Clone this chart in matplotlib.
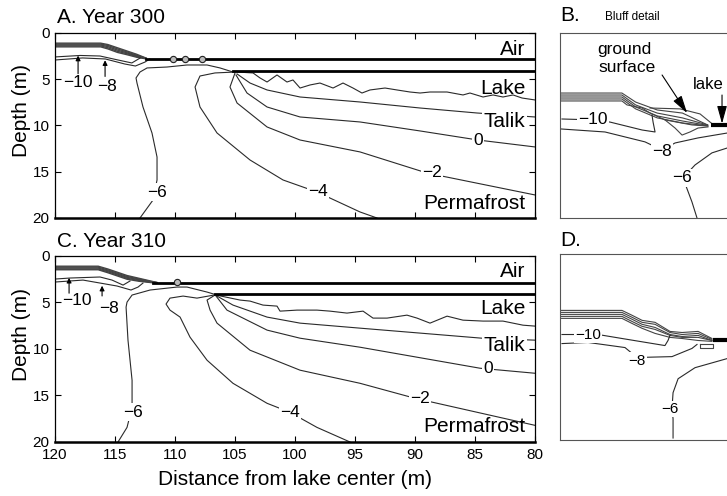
import matplotlib.pyplot as plt

plt.rcParams['font.family'] = ['Liberation Sans', 'DejaVu Sans']

# ---------------- panel A : year 300 (distance from lake centre, depth) ----------------
a_ground_x = [120, 116.2, 115.6, 114.8, 114.0, 113.2, 112.4]
a_ground_1 = [1.10, 1.10, 1.25, 1.60, 1.95, 2.30, 2.72]
a_ground_2 = [1.20, 1.20, 1.35, 1.72, 2.05, 2.40, 2.74]
a_ground_3 = [1.30, 1.30, 1.47, 1.85, 2.15, 2.48, 2.76]
a_ground_4 = [1.40, 1.40, 1.60, 1.98, 2.25, 2.55, 2.78]
a_ground_5 = [1.50, 1.50, 1.72, 2.10, 2.35, 2.62, 2.80]
a_surface_x = [112.4, 80]
a_surface_d = [2.76, 2.76]
a_ice_x = [105.2, 80]
a_ice_d = [4.08, 4.08]
a_bead_x = [110.2, 109.2, 107.75]
a_bead_d = [2.78, 2.78, 2.78]

a_m10_x = [120, 117.9, 116.25, 114.75, 113.6, 112.9]
a_m10_d = [2.59, 2.43, 2.49, 2.92, 3.24, 2.70]
a_m8_x = [120, 117.7, 115.8, 114.2, 113.3, 112.5, 112.1]
a_m8_d = [2.92, 2.70, 2.81, 3.35, 3.57, 3.14, 2.81]
a_m6_x = [112.92, 111.83, 111.5, 111.5, 111.92, 112.67, 113.17, 113.25, 112.92, 112.33,
          110.67, 109.0, 107.33, 106.25, 105.17]
a_m6_d = [20.0, 18.05, 15.89, 13.41, 10.81, 8.0, 5.41, 4.86, 4.22, 3.78,
          3.68, 3.46, 3.46, 3.78, 4.22]
a_m4_x = [105.0, 106.67, 107.92, 108.33, 107.92, 106.5, 103.75, 101.0, 98.17, 94.58, 93.17]
a_m4_d = [4.22, 4.32, 4.65, 5.84, 8.0, 10.81, 13.73, 15.89, 17.19, 19.35, 20.0]
a_m2_x = [105.0, 105.42, 104.83, 102.33, 99.58, 94.58, 89.0, 80.0]
a_m2_d = [4.32, 5.84, 7.57, 10.16, 11.57, 12.86, 15.14, 17.51]
a_0_x = [104.92, 104.0, 102.33, 99.58, 94.58, 89.58, 84.75, 80.0]
a_0_d = [4.54, 6.49, 8.0, 9.08, 9.62, 10.59, 11.57, 12.32]
a_talik_x = [104.83, 103.75, 102.33, 99.58, 94.58, 89.58, 84.83, 80.0]
a_talik_d = [4.43, 5.41, 6.16, 6.92, 7.46, 8.11, 8.65, 9.08]
a_wavy_x = [104.83, 103.5, 102.92, 102.33, 101.5, 100.67, 100.17, 99.58, 98.75, 97.92,
            96.83, 96.0, 95.17, 94.42, 93.75, 92.5, 91.5, 90.42, 89.58, 88.75,
            87.33, 86.0, 85.42, 84.33, 83.5, 82.67, 81.83, 81.08, 80.0]
a_wavy_d = [4.22, 4.32, 4.86, 5.30, 4.54, 5.30, 5.08, 5.95, 5.62, 5.41,
            5.95, 5.41, 5.95, 6.49, 6.16, 5.95, 6.16, 6.38, 6.49, 6.38,
            6.38, 6.70, 6.49, 6.92, 6.70, 6.92, 6.70, 7.03, 7.24]

a_lab_text = ['−6', '−4', '−2', '0']
a_lab_x = [111.5, 98.1, 88.6, 84.75]
a_lab_d = [17.2, 17.1, 15.1, 11.6]
a_region_d = [1.8, 5.95, 9.6, 18.4]
a_arrow_lab = ['−10', '−8']
a_arrow_lab_x = [118.1, 115.7]
a_arrow_lab_d = [5.3, 5.8]
a_arrow_x = [118.08, 115.83]
a_arrow_tail = [4.4, 4.7]
a_arrow_tip = [2.45, 2.95]

# ---------------- panel C : year 310 ----------------
c_ground_x = [120, 116.4, 115.6, 114.8, 114.0, 113.0, 112.0, 111.5]
c_ground_1 = [1.10, 1.10, 1.40, 1.75, 2.10, 2.40, 2.70, 2.85]
c_ground_2 = [1.20, 1.20, 1.50, 1.85, 2.20, 2.48, 2.75, 2.86]
c_ground_3 = [1.30, 1.30, 1.60, 1.95, 2.30, 2.56, 2.80, 2.87]
c_ground_4 = [1.40, 1.40, 1.70, 2.05, 2.40, 2.64, 2.83, 2.88]
c_ground_5 = [1.48, 1.48, 1.80, 2.15, 2.50, 2.72, 2.86, 2.88]
c_surface_x = [111.8, 80]
c_surface_d = [2.87, 2.87]
c_ice_x = [106.7, 80]
c_ice_d = [4.14, 4.14]
c_bead_x = [109.8]
c_bead_d = [2.75]

c_m10_x = [120, 118.75, 116.25, 115.25, 114.33, 113.75]
c_m10_d = [2.48, 2.37, 2.26, 2.59, 3.13, 2.69]
c_m8_x = [120, 117.67, 114.83, 113.67, 113.08, 112.67]
c_m8_d = [2.80, 2.59, 3.23, 3.66, 3.34, 2.91]
c_m6_x = [114.75, 114.0, 113.58, 113.58, 113.92, 114.08, 114.0, 113.58, 112.08, 109.83,
          109.0, 107.33, 106.5]
c_m6_d = [20.0, 18.43, 16.27, 13.36, 9.05, 5.50, 4.96, 4.20, 3.66, 3.34,
          3.34, 3.88, 4.20]
c_m4_x = [106.75, 108.17, 109.33, 110.42, 110.75, 110.42, 109.58, 108.75, 107.33, 105.17,
          102.33, 100.42, 98.17, 95.42]
c_m4_d = [4.20, 4.53, 4.31, 4.53, 5.17, 5.82, 6.57, 8.73, 11.21, 13.69,
          15.84, 16.81, 18.43, 20.0]
c_m2_x = [106.67, 107.33, 107.08, 106.5, 103.75, 99.58, 94.58, 90.0, 80.0]
c_m2_d = [4.20, 4.74, 5.82, 7.22, 10.13, 12.28, 13.69, 15.30, 18.21]
c_0_x = [106.58, 105.67, 102.33, 99.58, 94.58, 84.58, 80.0]
c_0_d = [4.31, 5.82, 7.97, 8.84, 9.81, 12.07, 12.61]
c_talik_x = [106.5, 105.17, 102.33, 99.58, 94.58, 84.42, 80.0]
c_talik_d = [4.31, 5.28, 6.57, 7.22, 7.76, 8.84, 9.05]
c_wavy_x = [106.58, 104.58, 103.75, 102.67, 101.5, 101.25, 99.83, 98.17, 97.08, 95.67,
            94.33, 93.5, 92.33, 90.67, 89.83, 88.75, 87.33, 86.0, 84.33, 82.67, 81.0, 80.0]
c_wavy_d = [4.20, 4.74, 4.85, 5.28, 5.39, 5.93, 5.82, 5.82, 5.93, 6.14,
            5.93, 6.68, 6.68, 6.36, 6.68, 7.22, 6.47, 6.90, 7.00, 7.00, 7.44, 7.54]

c_lab_text = ['−6', '−4', '−2', '0']
c_lab_x = [113.5, 100.4, 89.6, 83.9]
c_lab_d = [16.8, 16.8, 15.3, 12.07]
c_region_d = [1.72, 5.6, 9.6, 18.3]
c_arrow_lab = ['−10', '−8']
c_arrow_lab_x = [118.2, 115.5]
c_arrow_lab_d = [4.75, 5.6]
c_arrow_x = [118.83, 116.08]
c_arrow_tail = [4.0, 4.3]
c_arrow_tip = [2.35, 3.2]

region_names = ['Air', 'Lake', 'Talik', 'Permafrost']
region_masked = [False, False, True, False]
x_ticks = [120, 115, 110, 105, 100, 95, 90, 85, 80]
y_ticks = [0, 5, 10, 15, 20]

# ---------------- panel B : bluff detail, year 300 ----------------
b_ground_x = [120, 116.56, 115.8, 114.6, 113.2, 111.8]
b_ground_1 = [1.23, 1.23, 1.64, 2.00, 2.14, 2.68]
b_ground_2 = [1.32, 1.32, 1.77, 2.14, 2.36, 2.68]
b_ground_3 = [1.41, 1.41, 1.86, 2.27, 2.50, 2.70]
b_ground_4 = [1.50, 1.50, 1.95, 2.36, 2.59, 2.72]
b_ground5_x = [120, 116.56, 116.28, 115.44, 115.0, 114.17, 112.67, 111.78]
b_ground5_d = [1.59, 1.59, 1.77, 1.91, 2.14, 2.45, 2.68, 2.73]
b_upper_x = [115.0, 113.33, 112.22, 111.56]
b_upper_d = [1.91, 1.95, 2.18, 2.62]
b_loop_x = [114.17, 113.61, 113.22, 112.78, 112.33, 111.78]
b_loop_d = [2.45, 2.82, 3.14, 3.0, 2.82, 2.77]
b_m10_x = [119.89, 118.17, 117.22, 115.44, 114.72, 114.83, 114.89]
b_m10_d = [2.41, 2.45, 2.55, 2.91, 3.0, 2.55, 2.23]
b_m8_x = [120.0, 117.5, 115.28, 114.33, 113.61, 112.33, 111.39, 110.0]
b_m8_d = [2.86, 3.0, 3.45, 3.82, 3.5, 3.27, 3.14, 2.95]
b_m6_x = [112.39, 112.67, 113.17, 112.5, 111.56, 110.72, 109.72]
b_m6_d = [6.91, 6.18, 5.09, 4.5, 3.95, 3.73, 3.59]
b_lake_x = [111.6, 108.9]
b_lake_d = [2.68, 2.68]
b_lab_text = ['−10', '−8', '−6']
b_lab_x = [118.17, 114.33, 113.22]
b_lab_d = [2.45, 3.91, 5.09]

# ---------------- panel D : bluff detail, year 310 ----------------
d_ground_x = [120, 116.56, 116.0, 115.44, 114.72, 113.89, 113.22, 112.33, 111.56]
d_ground_1 = [1.05, 1.05, 1.27, 1.50, 1.59, 2.00, 2.05, 2.00, 2.32]
d_ground_2 = [1.14, 1.14, 1.36, 1.59, 1.68, 2.05, 2.14, 2.09, 2.36]
d_ground_3 = [1.23, 1.23, 1.45, 1.68, 1.82, 2.14, 2.23, 2.18, 2.41]
d_ground_4 = [1.32, 1.32, 1.55, 1.77, 1.91, 2.18, 2.27, 2.27, 2.41]
d_ground_5 = [1.41, 1.41, 1.64, 1.86, 2.09, 2.27, 2.32, 2.41, 2.45]
d_box_x = [112.22, 111.5, 111.5, 112.22, 112.22]
d_box_d = [2.55, 2.55, 2.77, 2.77, 2.55]
d_m10_x = [119.89, 118.44, 117.89, 116.56, 114.17, 114.0, 113.89]
d_m10_d = [2.14, 2.14, 2.14, 2.32, 2.64, 2.41, 2.18]
d_m8_x = [119.89, 118.44, 116.39, 115.72, 113.78, 112.67, 112.39]
d_m8_d = [2.55, 2.5, 2.73, 3.18, 3.14, 2.77, 2.59]
d_m6_x = [113.72, 113.72, 113.78, 113.72, 113.44, 112.5, 110.72, 108.89]
d_m6_d = [6.82, 5.95, 5.5, 4.77, 4.14, 3.64, 3.23, 3.0]
d_lake_x = [111.5, 108.9]
d_lake_d = [2.41, 2.41]
d_lab_text = ['−10', '−8', '−6']
d_lab_x = [118.44, 115.72, 113.89]
d_lab_d = [2.14, 3.32, 5.5]

LINE = dict(color='#2a2a2a', lw=0.8, zorder=2)
WHITE = dict(boxstyle='square,pad=0.08', fc='white', ec='none')

fig = plt.figure(figsize=(7.27, 4.96), dpi=100)


def main_panel(rect, ground_x, grounds, surf_x, surf_d, ice_x, ice_d, bead_x, bead_d,
               isolines, lab_text, lab_x, lab_d, region_d,
               arr_lab, arr_lab_x, arr_lab_d, arr_x, arr_tail, arr_tip):
    ax = fig.add_axes(rect)
    for g in grounds:
        ax.plot(ground_x, g, color='#444444', lw=1.0, zorder=2)
    ax.plot(surf_x, surf_d, color='black', lw=2.0, zorder=3)
    ax.plot(ice_x, ice_d, color='black', lw=2.0, zorder=3)
    ax.plot(bead_x, bead_d, 'o', ms=4.5, mfc='#bbbbbb', mec='#222222', mew=0.8, zorder=4)
    for xs, ds in isolines:
        ax.plot(xs, ds, **LINE)
    for t, x, d in zip(lab_text, lab_x, lab_d):
        ax.text(x, d, t, fontsize=12.5, ha='center', va='center', bbox=WHITE, zorder=5)
    for t, d, m in zip(region_names, region_d, region_masked):
        ax.text(80.8, d, t, fontsize=15, ha='right', va='center',
                bbox=WHITE if m else None, zorder=5)
    for t, x, d in zip(arr_lab, arr_lab_x, arr_lab_d):
        ax.text(x, d, t, fontsize=12.5, ha='center', va='center', zorder=5)
    for x, t0, t1 in zip(arr_x, arr_tail, arr_tip):
        ax.annotate('', xy=(x, t1), xytext=(x, t0),
                    arrowprops=dict(arrowstyle='-|>', color='black', lw=0.8,
                                    mutation_scale=7, shrinkA=0, shrinkB=0))
    ax.set_xlim(120, 80)
    ax.set_ylim(20, 0)
    ax.set_xticks(x_ticks)
    ax.set_yticks(y_ticks)
    ax.tick_params(direction='in', top=True, right=True, length=4, width=0.8,
                   labelsize=11, pad=4)
    for s in ax.spines.values():
        s.set_linewidth(0.9)
    ax.spines['bottom'].set_linewidth(1.8)
    ax.set_ylabel('Depth (m)', fontsize=15)
    ax.yaxis.set_label_coords(-0.05, 0.58)
    return ax


ax_a = main_panel([0.0757, 0.5605, 0.6602, 0.373], a_ground_x,
                  [a_ground_1, a_ground_2, a_ground_3, a_ground_4, a_ground_5],
                  a_surface_x, a_surface_d, a_ice_x, a_ice_d, a_bead_x, a_bead_d,
                  [(a_m10_x, a_m10_d), (a_m8_x, a_m8_d), (a_m6_x, a_m6_d), (a_m4_x, a_m4_d),
                   (a_m2_x, a_m2_d), (a_0_x, a_0_d), (a_talik_x, a_talik_d), (a_wavy_x, a_wavy_d)],
                  a_lab_text, a_lab_x, a_lab_d, a_region_d,
                  a_arrow_lab, a_arrow_lab_x, a_arrow_lab_d, a_arrow_x, a_arrow_tail, a_arrow_tip)
ax_a.tick_params(labelbottom=False)

ax_c = main_panel([0.0757, 0.1089, 0.6602, 0.375], c_ground_x,
                  [c_ground_1, c_ground_2, c_ground_3, c_ground_4, c_ground_5],
                  c_surface_x, c_surface_d, c_ice_x, c_ice_d, c_bead_x, c_bead_d,
                  [(c_m10_x, c_m10_d), (c_m8_x, c_m8_d), (c_m6_x, c_m6_d), (c_m4_x, c_m4_d),
                   (c_m2_x, c_m2_d), (c_0_x, c_0_d), (c_talik_x, c_talik_d), (c_wavy_x, c_wavy_d)],
                  c_lab_text, c_lab_x, c_lab_d, c_region_d,
                  c_arrow_lab, c_arrow_lab_x, c_arrow_lab_d, c_arrow_x, c_arrow_tail, c_arrow_tip)
ax_c.set_xlabel('Distance from lake center (m)', fontsize=15, labelpad=6)


def detail_panel(rect, grounds, isolines, lake_x, lake_d, lab_text, lab_x, lab_d, lab_size):
    ax = fig.add_axes(rect)
    for xs, ds in grounds:
        ax.plot(xs, ds, color='#444444', lw=0.8, zorder=2)
    for xs, ds in isolines:
        ax.plot(xs, ds, **LINE)
    ax.plot(lake_x, lake_d, color='black', lw=3.0, solid_capstyle='butt', zorder=3)
    for t, x, d in zip(lab_text, lab_x, lab_d):
        ax.text(x, d, t, fontsize=lab_size, ha='center', va='center', bbox=WHITE, zorder=5)
    ax.set_xlim(120, 108.89)
    ax.set_ylim(6.91, -1.5)
    ax.set_xticks([])
    ax.set_yticks([])
    for s in ax.spines.values():
        s.set_linewidth(0.8)
        s.set_color('#555555')
    return ax


ax_b = detail_panel([0.7703, 0.5605, 0.2751, 0.373],
                    [(b_ground_x, b_ground_1), (b_ground_x, b_ground_2), (b_ground_x, b_ground_3),
                     (b_ground_x, b_ground_4), (b_ground5_x, b_ground5_d), (b_upper_x, b_upper_d),
                     (b_loop_x, b_loop_d)],
                    [(b_m10_x, b_m10_d), (b_m8_x, b_m8_d), (b_m6_x, b_m6_d)],
                    b_lake_x, b_lake_d, b_lab_text, b_lab_x, b_lab_d, 12.5)
ax_b.text(117.94, -0.73, 'ground', fontsize=12.5, ha='left', va='center')
ax_b.text(117.89, 0.09, 'surface', fontsize=12.5, ha='left', va='center')
ax_b.text(112.62, 0.86, 'lake', fontsize=12, ha='left', va='center')
ax_b.annotate('', xy=(112.94, 2.14), xytext=(114.33, 0.41),
              arrowprops=dict(arrowstyle='-|>,head_length=0.9,head_width=0.25', color='black',
                              lw=0.8, mutation_scale=12, shrinkA=0, shrinkB=0))
ax_b.annotate('', xy=(111.0, 2.62), xytext=(111.0, 1.32),
              arrowprops=dict(arrowstyle='-|>,head_length=0.9,head_width=0.25', color='black',
                              lw=0.8, mutation_scale=12, shrinkA=0, shrinkB=0))

ax_d = detail_panel([0.7703, 0.1129, 0.2751, 0.375],
                    [(d_ground_x, d_ground_1), (d_ground_x, d_ground_2), (d_ground_x, d_ground_3),
                     (d_ground_x, d_ground_4), (d_ground_x, d_ground_5), (d_box_x, d_box_d)],
                    [(d_m10_x, d_m10_d), (d_m8_x, d_m8_d), (d_m6_x, d_m6_d)],
                    d_lake_x, d_lake_d, d_lab_text, d_lab_x, d_lab_d, 11)

# panel titles
fig.text(57 / 727, 1 - 23 / 496, 'A. Year 300', fontsize=15, va='baseline')
fig.text(57 / 727, 1 - 247 / 496, 'C. Year 310', fontsize=15, va='baseline')
fig.text(560 / 727, 1 - 21 / 496, 'B.', fontsize=15, va='baseline')
fig.text(605 / 727, 1 - 20 / 496, 'Bluff detail', fontsize=8.5, va='baseline')
fig.text(560 / 727, 1 - 246 / 496, 'D.', fontsize=15, va='baseline')

plt.savefig('out.png', dpi=100)
